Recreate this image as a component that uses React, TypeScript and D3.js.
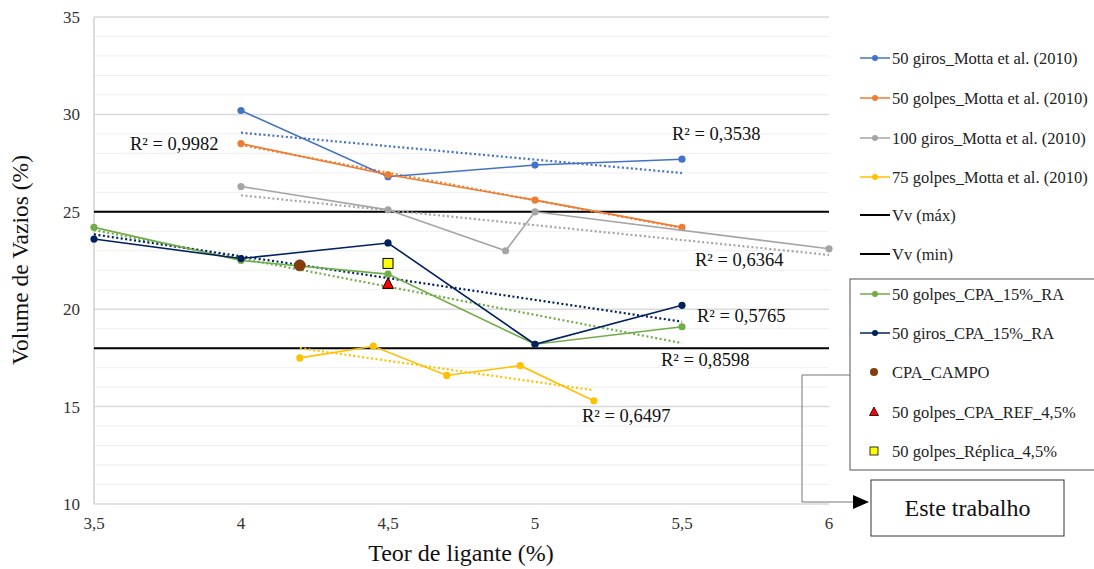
import React from "react";
import * as d3 from "d3";

const W = 1094, H = 569;
const M = { left: 94, right: 829, top: 17, bottom: 504 };

type Pt = [number, number];
const giros50Motta: Pt[] = [[4, 30.2], [4.5, 26.8], [5, 27.4], [5.5, 27.7]];
const golpes50Motta: Pt[] = [[4, 28.5], [4.5, 26.9], [5, 25.6], [5.5, 24.2]];
const giros100Motta: Pt[] = [[4, 26.3], [4.5, 25.1], [4.9, 23.0], [5, 25.0], [6, 23.1]];
const golpes75Motta: Pt[] = [[4.2, 17.5], [4.45, 18.1], [4.7, 16.6], [4.95, 17.1], [5.2, 15.3]];
const golpesCPA: Pt[] = [[3.5, 24.2], [4, 22.5], [4.5, 21.8], [5, 18.2], [5.5, 19.1]];
const girosCPA: Pt[] = [[3.5, 23.6], [4, 22.6], [4.5, 23.4], [5, 18.2], [5.5, 20.2]];
const cpaCampo: Pt[] = [[4.2, 22.25]];
const cpaRef: Pt[] = [[4.5, 21.3]];
const replica: Pt[] = [[4.5, 22.35]];
const vvMax = 25;
const vvMin = 18;
const xTicks = [3.5, 4, 4.5, 5, 5.5, 6];
const yTicks = [10, 15, 20, 25, 30, 35];

const series = [
  { name: "50 giros_Motta et al. (2010)", data: giros50Motta, color: "#4472C4", r2: "R² = 0,3538", lx: 672, ly: 140 },
  { name: "50 golpes_Motta et al. (2010)", data: golpes50Motta, color: "#ED7D31", r2: "R² = 0,9982", lx: 130, ly: 150 },
  { name: "100 giros_Motta et al. (2010)", data: giros100Motta, color: "#A5A5A5", r2: "R² = 0,6364", lx: 695, ly: 266 },
  { name: "75 golpes_Motta et al. (2010)", data: golpes75Motta, color: "#FFC000", r2: "R² = 0,6497", lx: 582, ly: 422 },
  { name: "50 golpes_CPA_15%_RA", data: golpesCPA, color: "#70AD47", r2: "R² = 0,8598", lx: 661, ly: 366 },
  { name: "50 giros_CPA_15%_RA", data: girosCPA, color: "#002060", r2: "R² = 0,5765", lx: 697, ly: 322 },
];

function fit(data: Pt[]) {
  const mx = d3.mean(data, d => d[0])!;
  const my = d3.mean(data, d => d[1])!;
  let sxy = 0, sxx = 0;
  data.forEach(([x, y]) => { sxy += (x - mx) * (y - my); sxx += (x - mx) ** 2; });
  const b = sxy / sxx;
  const a = my - b * mx;
  const x0 = d3.min(data, d => d[0])!, x1 = d3.max(data, d => d[0])!;
  return [[x0, a + b * x0], [x1, a + b * x1]] as Pt[];
}

export default function App() {
  const x = d3.scaleLinear().domain([3.5, 6]).range([M.left, M.right]);
  const y = d3.scaleLinear().domain([10, 35]).range([M.bottom, M.top]);
  const line = d3.line<Pt>().x(d => x(d[0])).y(d => y(d[1]));
  const grid = d3.range(11, 36);
  const font = "Liberation Serif, DejaVu Serif, serif";

  const legend1 = series.slice(0, 4);
  const legendY1 = [58, 98, 138, 177];
  const legendY2 = [294, 333, 372, 412, 451];
  const lf = 16.5;
  const lo = 5.5;

  return (
    <svg width={W} height={H} style={{ position: "absolute", left: 0, top: 0, background: "#fff", fontFamily: font }}>
      {grid.map(g => (
        <line key={g} x1={M.left} x2={M.right} y1={y(g)} y2={y(g)} stroke={g % 5 === 0 ? "#d9d9d9" : "#efefef"} strokeWidth={g % 5 === 0 ? 1.5 : 1} />
      ))}
      <line x1={M.left} x2={M.right} y1={y(10)} y2={y(10)} stroke="#d9d9d9" strokeWidth={1.5} />
      <line x1={M.left} x2={M.left} y1={M.top} y2={M.bottom} stroke="#d0d0d0" strokeWidth={1.5} />
      {yTicks.map(t => (
        <text key={t} x={80} y={y(t) + 6} textAnchor="end" fontSize={17} fill="#333">{t}</text>
      ))}
      {xTicks.map(t => (
        <text key={t} x={x(t)} y={529} textAnchor="middle" fontSize={17} fill="#333">{String(t).replace(".", ",")}</text>
      ))}
      <text x={461} y={561} textAnchor="middle" fontSize={24} fill="#111">Teor de ligante (%)</text>
      <text transform={`translate(28,260) rotate(-90)`} textAnchor="middle" fontSize={23.5} fill="#111">Volume de Vazios (%)</text>

      <line x1={M.left} x2={M.right} y1={y(vvMax)} y2={y(vvMax)} stroke="#000" strokeWidth={2} />
      <line x1={M.left} x2={M.right} y1={y(vvMin)} y2={y(vvMin)} stroke="#000" strokeWidth={2} />

      {series.map(s => (
        <path key={s.name + "t"} d={line(fit(s.data))!} fill="none" stroke={s.color} strokeWidth={2.2} strokeDasharray="2,2.5" />
      ))}
      {series.map(s => (
        <g key={s.name}>
          <path d={line(s.data)!} fill="none" stroke={s.color} strokeWidth={1.6} />
          {s.data.map((d, i) => <circle key={i} cx={x(d[0])} cy={y(d[1])} r={3.6} fill={s.color} />)}
        </g>
      ))}
      {cpaCampo.map((d, i) => <circle key={i} cx={x(d[0])} cy={y(d[1])} r={5.5} fill="#843C0C" stroke="#6a3010" strokeWidth={0.8} />)}
      {cpaRef.map((d, i) => (
        <path key={i} d={`M${x(d[0])},${y(d[1]) - 6}L${x(d[0]) + 5.5},${y(d[1]) + 4.5}L${x(d[0]) - 5.5},${y(d[1]) + 4.5}Z`} fill="#FF0000" stroke="#000" strokeWidth={1} />
      ))}
      {replica.map((d, i) => (
        <rect key={i} x={x(d[0]) - 5} y={y(d[1]) - 5} width={10} height={10} fill="#FFFF00" stroke="#000" strokeWidth={1} />
      ))}

      {series.map(s => (
        <text key={s.r2} x={s.lx} y={s.ly} fontSize={18.5} fill="#111">{s.r2}</text>
      ))}

      {legend1.map((s, i) => (
        <g key={s.name}>
          <line x1={860} x2={890} y1={legendY1[i]} y2={legendY1[i]} stroke={s.color} strokeWidth={1.5} />
          <circle cx={875} cy={legendY1[i]} r={3} fill={s.color} />
          <text x={892} y={legendY1[i] + lo} fontSize={lf} fill="#222">{s.name}</text>
        </g>
      ))}
      {[["Vv (máx)", 215], ["Vv (min)", 254]].map(([n, yy]) => (
        <g key={n as string}>
          <line x1={860} x2={890} y1={yy as number} y2={yy as number} stroke="#000" strokeWidth={2} />
          <text x={892} y={(yy as number) + lo} fontSize={lf} fill="#222">{n}</text>
        </g>
      ))}

      <rect x={850} y={279} width={260} height={191} fill="#fff" stroke="#555" strokeWidth={1} />
      {series.slice(4).map((s, i) => (
        <g key={s.name + "l"}>
          <line x1={860} x2={890} y1={legendY2[i]} y2={legendY2[i]} stroke={s.color} strokeWidth={1.5} />
          <circle cx={875} cy={legendY2[i]} r={3} fill={s.color} />
          <text x={892} y={legendY2[i] + lo} fontSize={lf} fill="#222">{s.name}</text>
        </g>
      ))}
      <circle cx={874} cy={legendY2[2]} r={4} fill="#843C0C" />
      <text x={892} y={legendY2[2] + lo} fontSize={lf} fill="#222">CPA_CAMPO</text>
      <path d={`M874,${legendY2[3] - 5}L878.5,${legendY2[3] + 3.5}L869.5,${legendY2[3] + 3.5}Z`} fill="#FF0000" stroke="#000" strokeWidth={0.8} />
      <text x={892} y={legendY2[3] + lo} fontSize={lf} fill="#222">50 golpes_CPA_REF_4,5%</text>
      <rect x={870} y={legendY2[4] - 4} width={8} height={8} fill="#FFFF00" stroke="#000" strokeWidth={0.8} />
      <text x={892} y={legendY2[4] + lo} fontSize={lf} fill="#222">50 golpes_Réplica_4,5%</text>

      <path d="M850,375H802V502H856" fill="none" stroke="#777" strokeWidth={1} />
      <path d="M853,495L869,502L853,509Z" fill="#000" />
      <rect x={871} y={480} width={193} height={56} fill="#fff" stroke="#333" strokeWidth={1} />
      <text x={967.5} y={516} textAnchor="middle" fontSize={24} fill="#111">Este trabalho</text>
    </svg>
  );
}
